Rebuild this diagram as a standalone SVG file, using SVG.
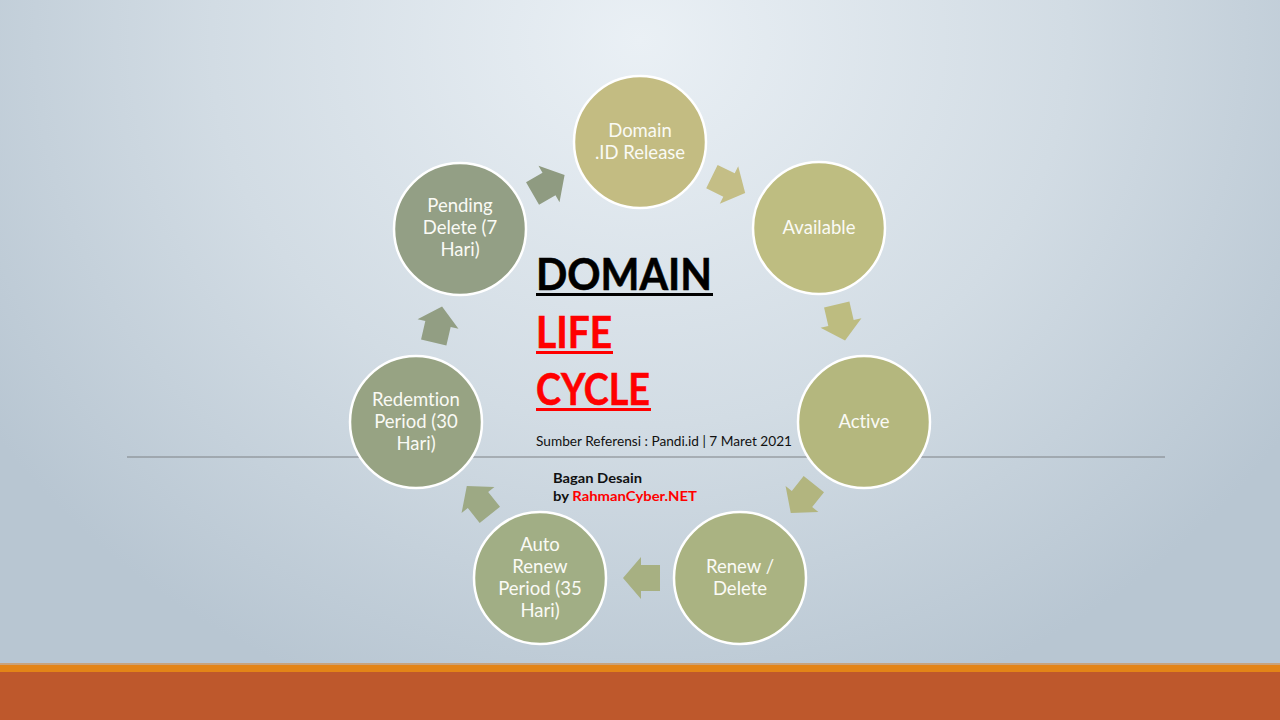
<svg xmlns="http://www.w3.org/2000/svg" width="1280" height="720" viewBox="0 0 1280 720">
<defs>
<radialGradient id="bg" gradientUnits="userSpaceOnUse" cx="640" cy="40" r="780" gradientTransform="translate(640 40) scale(1 0.9) translate(-640 -40)">
<stop offset="0" stop-color="#EAF0F5"/>
<stop offset="0.55" stop-color="#D2DCE4"/>
<stop offset="1" stop-color="#B8C6D2"/>
</radialGradient>
<path id="arr" d="M-19,-13 H0 V-21 L18,0 L0,21 V13 H-19 Z"/>
</defs>
<style>
text{font-variant-ligatures:none}
.node circle{stroke:#FFFFFF;stroke-width:2.5}
.node text{font-family:Lato,"Liberation Sans",sans-serif;font-size:18.5px;fill:#FAFAF5;text-anchor:middle}
.title{font-family:Lato,"Liberation Sans",sans-serif;font-weight:bold;font-size:44px;stroke-width:0.6px}
.small{font-family:Lato,"Liberation Sans",sans-serif;font-size:13px;fill:#111111}
</style>
<rect width="1280" height="720" fill="url(#bg)"/>
<rect x="0" y="663" width="1280" height="2" fill="#C9A27A"/>
<rect x="0" y="665" width="1280" height="7" fill="#E38417"/>
<rect x="0" y="672" width="1280" height="48" fill="#BE582C"/>
<line x1="127" y1="457" x2="1165" y2="457" stroke="#7F8285" stroke-width="1.2"/>

<g id="connectors">
<use href="#arr" transform="translate(549 184) rotate(-30)" fill="#8F9B81"/>
<use href="#arr" transform="translate(729 185) rotate(26)" fill="#C4BE86"/>
<use href="#arr" transform="translate(841 323) rotate(77)" fill="#BDBC80"/>
<use href="#arr" transform="translate(802 499) rotate(128.5)" fill="#B2B57F"/>
<use href="#arr" transform="translate(641 578) rotate(180)" fill="#A7B082"/>
<use href="#arr" transform="translate(478 500) rotate(-128.5)" fill="#9DA984"/>
<use href="#arr" transform="translate(438 324) rotate(-77)" fill="#929E83"/>
</g>

<g id="node-domain-release" class="node">
<circle cx="640" cy="142" r="66" fill="#C3BC82"/>
<text x="640" y="137">Domain</text>
<text x="640" y="159">.ID Release</text>
</g>
<g id="node-available" class="node">
<circle cx="819" cy="228" r="66" fill="#BEBD81"/>
<text x="819" y="234">Available</text>
</g>
<g id="node-active" class="node">
<circle cx="864" cy="422" r="66" fill="#B4B77E"/>
<text x="864" y="428">Active</text>
</g>
<g id="node-renew-delete" class="node">
<circle cx="740" cy="578" r="66" fill="#AAB382"/>
<text x="740" y="573">Renew /</text>
<text x="740" y="595">Delete</text>
</g>
<g id="node-auto-renew" class="node">
<circle cx="540" cy="578" r="66" fill="#A1AE85"/>
<text x="540" y="551">Auto</text>
<text x="540" y="573">Renew</text>
<text x="540" y="595">Period (35</text>
<text x="540" y="617">Hari)</text>
</g>
<g id="node-redemtion" class="node">
<circle cx="416" cy="422" r="66" fill="#97A383"/>
<text x="416" y="406">Redemtion</text>
<text x="416" y="428">Period (30</text>
<text x="416" y="450">Hari)</text>
</g>
<g id="node-pending-delete" class="node">
<circle cx="460" cy="229" r="66" fill="#939F85"/>
<text x="460" y="212">Pending</text>
<text x="460" y="234">Delete (7</text>
<text x="460" y="256">Hari)</text>
</g>

<g id="title">
<text class="title" x="536" y="290" fill="#000000" stroke="#000000" textLength="176" lengthAdjust="spacingAndGlyphs">DOMAIN</text>
<rect x="536" y="293" width="177" height="3" fill="#000000"/>
<text class="title" x="536" y="348" fill="#FF0000" stroke="#FF0000" textLength="76" lengthAdjust="spacingAndGlyphs">LIFE</text>
<rect x="536" y="351" width="77" height="3" fill="#FF0000"/>
<text class="title" x="536" y="405" fill="#FF0000" stroke="#FF0000" textLength="114" lengthAdjust="spacingAndGlyphs">CYCLE</text>
<rect x="536" y="408" width="115" height="3" fill="#FF0000"/>
</g>
<g id="credits">
<text class="small" x="536" y="446" textLength="256" lengthAdjust="spacingAndGlyphs">Sumber Referensi : Pandi.id | 7 Maret 2021</text>
<text class="small" x="553" y="483" font-weight="bold" font-size="14" textLength="89" lengthAdjust="spacingAndGlyphs">Bagan Desain</text>
<text class="small" x="553" y="501" font-weight="bold" font-size="14" textLength="144" lengthAdjust="spacingAndGlyphs">by <tspan fill="#FF0000">RahmanCyber.NET</tspan></text>
</g>
</svg>
